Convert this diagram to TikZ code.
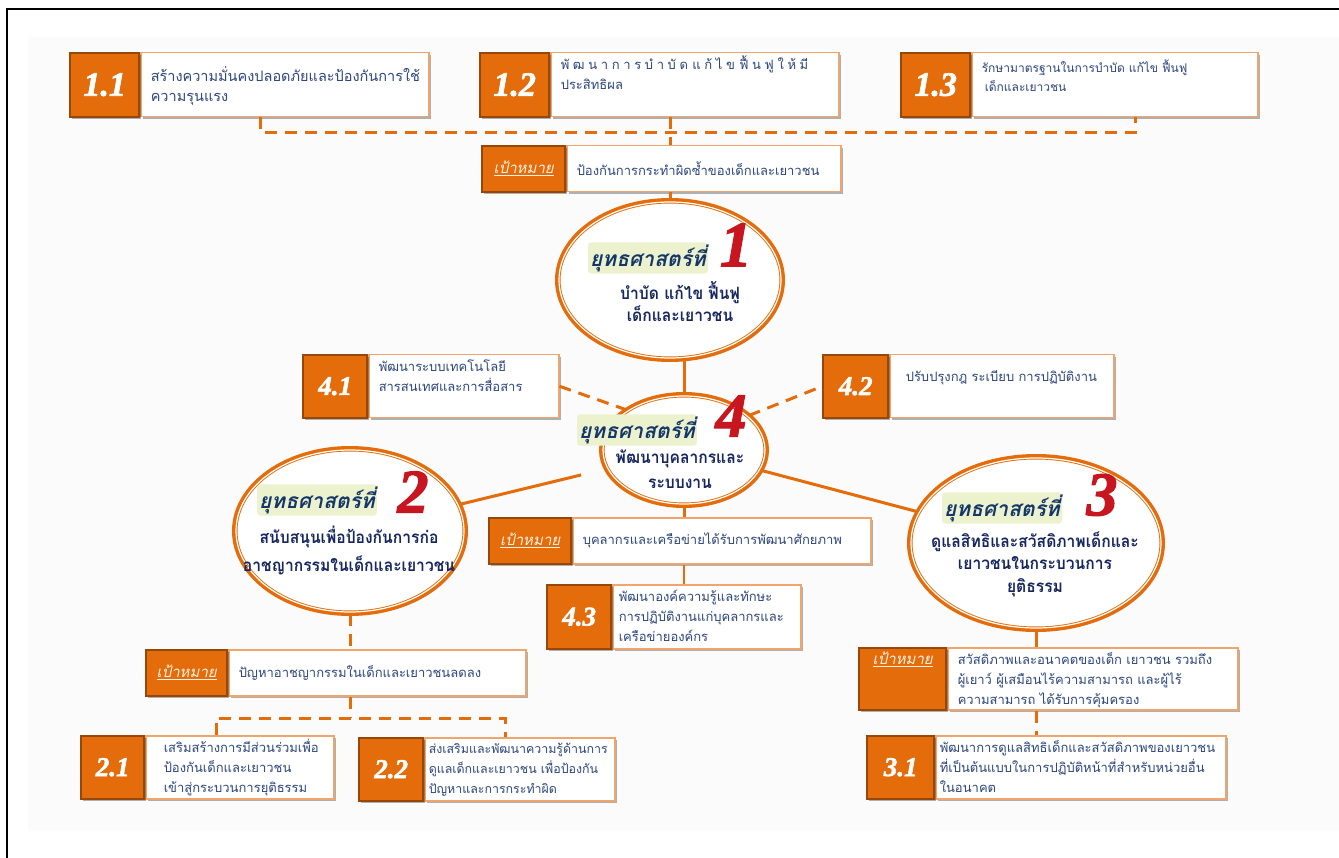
\documentclass[tikz,border=0pt]{standalone}
\usepackage{fontspec}
\setmainfont{Loma}[Script=Thai]
\newfontfamily\heavyfont{Loma}[Script=Thai, FakeStretch=0.92]
\newfontfamily\numfont{Liberation Serif}[BoldItalicFeatures={FakeBold=2}]
\usepackage{tikz}
\usetikzlibrary{positioning, calc, shapes.geometric, shadows}

\definecolor{ornge}{RGB}{228,108,10}
\definecolor{ornD}{RGB}{150,72,10}
\definecolor{ornL}{RGB}{240,165,110}
\definecolor{txtblue}{RGB}{45,70,125}
\definecolor{navy}{RGB}{22,38,95}
\definecolor{stratblue}{RGB}{20,55,105}
\definecolor{glow}{RGB}{236,241,206}
\definecolor{numred}{RGB}{200,22,32}
\definecolor{cream}{RGB}{255,240,225}

\begin{document}
\begin{tikzpicture}[x=1pt, y=-1pt, node distance=0pt,
    box shadow/.style={drop shadow={shadow xshift=2pt, shadow yshift=-2pt, opacity=0.3, fill=black}},
    numbox/.style={fill=ornge, draw=ornD, line width=1.6pt, text=white, inner sep=0pt,
        font=\numfont\bfseries\itshape\fontsize{27}{27}\selectfont, box shadow},
    bignum/.style={numbox, font=\numfont\bfseries\itshape\fontsize{34}{34}\selectfont},
    txtbox/.style={fill=white, draw=ornL, line width=1.5pt, inner xsep=10pt, inner ysep=0pt,
        align=left, anchor=north west, text=txtblue, font=\fontsize{13}{20}\selectfont, box shadow},
    glbl/.style={fill=ornge, draw=ornD, line width=1.6pt, text=cream, inner sep=0pt,
        font=\itshape\fontsize{15}{16}\selectfont, box shadow},
    strat/.style={ellipse, inner sep=0pt, fill=white, draw=ornge, line width=3pt,
        drop shadow={shadow xshift=3pt, shadow yshift=-3pt, opacity=0.25, fill=black},
        preaction={draw=ornge, line width=8pt}, postaction={draw=white, line width=1.2pt}},
    slbl/.style={fill=glow, rounded corners=3pt, inner sep=2pt, text=stratblue,
        font=\bfseries\itshape\fontsize{21}{21}\selectfont},
    snum/.style={text=numred, inner sep=0pt, font=\numfont\bfseries\itshape\fontsize{62}{62}\selectfont},
    stxt/.style={align=center, text=navy, inner sep=0pt, font=\heavyfont\bfseries\fontsize{17}{22}\selectfont},
    link/.style={draw=ornge, line width=3pt},
    dlink/.style={draw=ornge, line width=3pt, dash pattern=on 12pt off 8pt}]
    \useasboundingbox (0,0) rectangle (1339,858);
    % Background
    \fill[black!1.5] (28,37) rectangle (1339,831);
    \draw[black, line width=1.6pt] (7,858) -- (7,9) -- (1339,9);

    % Strategy 1
    \node[txtbox, text width=268pt, text height=29pt, text depth=35pt, font=\fontsize{14.5}{20}\selectfont] (t11) at (140,52)
        {สร้างความมั่นคงปลอดภัยและป้องกันการใช้\\ความรุนแรง};
    \node[bignum, minimum width=69pt, minimum height=64pt, left=of t11] (n11) {1.1};
    \node[txtbox, text width=268pt, text height=17pt, text depth=47pt] (t12) at (550,52)
        {{\addfontfeature{LetterSpace=28}พัฒนาการบำบัด~แก้ไข~ฟื้นฟูให้มี}\\ประสิทธิผล};
    \node[bignum, minimum width=69pt, minimum height=64pt, left=of t12] (n12) {1.2};
    \node[txtbox, text width=266pt, text height=20pt, text depth=44pt, font=\fontsize{12}{19}\selectfont] (t13) at (971,52)
        {รักษามาตรฐานในการบำบัด~แก้ไข~ฟื้นฟู\\\hspace*{3pt}เด็กและเยาวชน};
    \node[bignum, minimum width=69pt, minimum height=64pt, left=of t13] (n13) {1.3};
    \node[txtbox, text width=254pt, minimum height=46pt] (g1t) at (566,145)
        {ป้องกันการกระทำผิดซ้ำของเด็กและเยาวชน};
    \node[glbl, minimum width=83pt, minimum height=46pt, left=of g1t] (g1l) {\underline{เป้าหมาย}};
    \node[strat, minimum width=222pt, minimum height=156pt] (e1) at (670,280) {};
    \node[slbl] (l1) at ($(e1)+(-22,-22)$) {ยุทธศาสตร์ที่};
    \node[snum, font=\numfont\bfseries\itshape\fontsize{64}{64}\selectfont] (m1) at ($(e1)+(66,-35)$) {1};
    \node[stxt] (s1) at ($(e1)+(10,22)$) {บำบัด~แก้ไข~ฟื้นฟู\\เด็กและเยาวชน};

    % Strategy 4
    \node[txtbox, text width=170pt, text height=17pt, text depth=46pt] (t41) at (368,354)
        {พัฒนาระบบเทคโนโลยี\\สารสนเทศและการสื่อสาร};
    \node[numbox, minimum width=64pt, minimum height=63pt, left=of t41] (n41) {4.1};
    \node[txtbox, text width=192pt, inner xsep=16pt, text height=27pt, text depth=36pt] (t42) at (889,354)
        {ปรับปรุงกฎ~ระเบียบ~การปฏิบัติงาน};
    \node[numbox, minimum width=65pt, minimum height=63pt, left=of t42] (n42) {4.2};
    \node[strat, minimum width=162pt, minimum height=108pt] (e4) at (684,450) {};
    \node[slbl] (l4) at ($(e4)+(-47,-20)$) {ยุทธศาสตร์ที่};
    \node[snum] (m4) at ($(e4)+(47,-34)$) {4};
    \node[stxt, font=\heavyfont\bfseries\fontsize{17}{25}\selectfont] (s4) at ($(e4)+(-4,19)$) {พัฒนาบุคลากรและ\\ระบบงาน};
    \node[txtbox, text width=278pt, minimum height=46pt] (g4t) at (572,517)
        {บุคลากรและเครือข่ายได้รับการพัฒนาศักยภาพ};
    \node[glbl, minimum width=82pt, minimum height=46pt, left=of g4t] (g4l) {\underline{เป้าหมาย}};
    \node[txtbox, text width=176pt, inner xsep=6pt, text height=17pt, text depth=47pt] (t43) at (612,584)
        {พัฒนาองค์ความรู้และทักษะ\\การปฏิบัติงานแก่บุคลากรและ\\เครือข่ายองค์กร};
    \node[numbox, minimum width=64pt, minimum height=64pt, left=of t43] (n43) {4.3};

    % Strategy 2
    \node[strat, minimum width=228pt, minimum height=162pt] (e2) at (350,531) {};
    \node[slbl] (l2) at ($(e2)+(-33,-31)$) {ยุทธศาสตร์ที่};
    \node[snum] (m2) at ($(e2)+(63,-39)$) {2};
    \node[stxt, font=\heavyfont\bfseries\fontsize{17}{28}\selectfont] (s2) at ($(e2)+(-1,19)$) {สนับสนุนเพื่อป้องกันการก่อ\\อาชญากรรมในเด็กและเยาวชน};
    \node[txtbox, text width=277pt, minimum height=46pt] (g2t) at (228,649)
        {ปัญหาอาชญากรรมในเด็กและเยาวชนลดลง};
    \node[glbl, minimum width=81pt, minimum height=46pt, left=of g2t] (g2l) {\underline{เป้าหมาย}};
    \node[txtbox, text width=152pt, inner xsep=18pt, text height=17pt, text depth=46pt] (t21) at (145,735)
        {เสริมสร้างการมีส่วนร่วมเพื่อ\\ป้องกันเด็กและเยาวชน\\เข้าสู่กระบวนการยุติธรรม};
    \node[numbox, minimum width=63pt, minimum height=63pt, left=of t21] (n21) {2.1};
    \node[txtbox, text width=182pt, inner xsep=4pt, text height=16pt, text depth=47pt, font=\fontsize{12.4}{20}\selectfont] (t22) at (424,737)
        {ส่งเสริมและพัฒนาความรู้ด้านการ\\ดูแลเด็กและเยาวชน~เพื่อป้องกัน\\ปัญหาและการกระทำผิด};
    \node[numbox, minimum width=64pt, minimum height=63pt, left=of t22] (n22) {2.2};

    % Strategy 3
    \node[strat, minimum width=250pt, minimum height=170pt] (e3) at (1036,543) {};
    \node[slbl] (l3) at ($(e3)+(-34,-35)$) {ยุทธศาสตร์ที่};
    \node[snum] (m3) at ($(e3)+(66,-48)$) {3};
    \node[stxt, font=\heavyfont\bfseries\fontsize{17}{22.5}\selectfont] (s3) at ($(e3)+(-1,21)$) {ดูแลสิทธิและสวัสดิภาพเด็กและ\\เยาวชนในกระบวนการ\\ยุติธรรม};
    \node[txtbox, text width=270pt, text height=17pt, text depth=45pt] (g3t) at (947,647)
        {สวัสดิภาพและอนาคตของเด็ก~เยาวชน~รวมถึง\\ผู้เยาว์~ผู้เสมือนไร้ความสามารถ~และผู้ไร้\\ความสามารถ~ได้รับการคุ้มครอง};
    \node[glbl, minimum width=87pt, text height=17pt, text depth=45pt, left=of g3t] (g3l) {\underline{เป้าหมาย}};
    \node[txtbox, text width=282pt, inner xsep=4pt, text height=17pt, text depth=46pt] (t31) at (935,735)
        {พัฒนาการดูแลสิทธิเด็กและสวัสดิภาพของเยาวชน\\ที่เป็นต้นแบบในการปฏิบัติหน้าที่สำหรับหน่วยอื่น\\ในอนาคต};
    \node[numbox, minimum width=67pt, minimum height=63pt, left=of t31] (n31) {3.1};

    % Links
    \coordinate (j11) at (260,133);
    \coordinate (j13) at (1135,133);
    \coordinate (j21) at (216,718);
    \coordinate (j22) at (505,718);
    \draw[dlink] (t11.south -| j11) |- (j13) -- (t13.south -| j13);
    \draw[dlink] (t12.south -| e1.north) -- (g1t.north -| e1.north);
    \draw[dlink] (g1t.south -| e1.north) -- (e1.north);
    \draw[link] (e1.south -| e4.north) -- (e4.north);
    \draw[dlink] (t41.east) -- (e4.145);
    \draw[dlink] (e4.28) -- (n42.west);
    \draw[link, shorten >=26pt] (e2) -- (e4);
    \draw[link] (e4) -- (e3);
    \draw[link] (e4.south) -- (g4t.north -| e4.south);
    \draw[link, line width=2pt] (g4t.south -| e4.south) -- (t43.north -| e4.south);
    \draw[dlink] (e2.south) -- (g2t.north -| e2.south);
    \draw[dlink] (g2t.south -| e2.south) -- (e2.south |- j21);
    \draw[dlink] (t21.north -| j21) |- (j22) -- (t22.north -| j22);
    \draw[link] (e3.south) -- (g3t.north -| e3.south);
    \draw[dlink] (g3t.south -| e3.south) -- (t31.north -| e3.south);
\end{tikzpicture}
\end{document}
